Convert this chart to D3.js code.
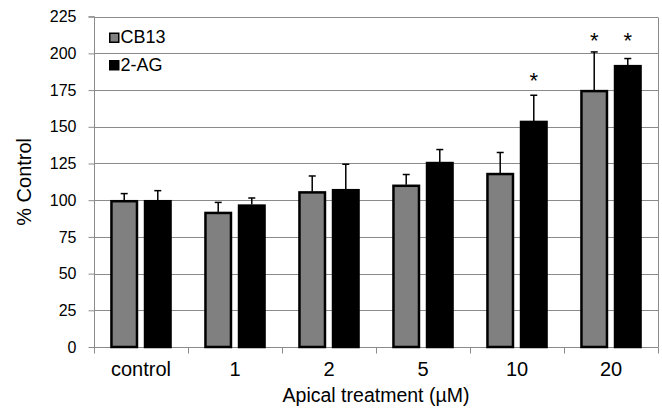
<!DOCTYPE html>
<html>
<head>
<meta charset="utf-8">
<script src="https://cdn.jsdelivr.net/npm/d3@7"></script>
<style>
  html, body { margin: 0; padding: 0; background: #fff; }
  svg { display: block; font-family: Arial, "Liberation Sans", sans-serif; }
</style>
</head>
<body>
<svg id="chart" width="662" height="409"></svg>
<script>
// ---- data ----
const categories = ["control", "1", "2", "5", "10", "20"];
const seriesNames = ["CB13", "2-AG"];
const cb13Values = [100, 92, 106, 110.5, 118.5, 175];
const cb13Errors = [4.5, 6.5, 10.5, 7, 14, 26];
const agValues = [100, 97, 107.5, 126, 154, 192];
const agErrors = [6.5, 4.5, 17, 8.5, 17.5, 4.5];
const yTicks = [0, 25, 50, 75, 100, 125, 150, 175, 200, 225];
// significance markers: [category, series, y value of star]
const stars = [["10", "2-AG", 186], ["20", "CB13", 213], ["20", "2-AG", 213]];
const yLabel = "% Control";
const xLabel = "Apical treatment (µM)";

const colors = {"CB13": "#808080", "2-AG": "#000000"};

const svg = d3.select("#chart");
const margin = {left: 94, right: 4, top: 16.7, bottom: 62};
const W = 662, H = 409;
const x0 = margin.left, x1 = W - margin.right;
const yTop = margin.top, yBot = H - margin.bottom;

const x = d3.scaleBand().domain(categories).range([x0, x1]).padding(0);
const xs = d3.scaleBand().domain(seriesNames).range([0, x.bandwidth()])
  .paddingInner(0.18).paddingOuter(0.49);
const y = d3.scaleLinear().domain([0, 225]).range([yBot, yTop]);

const gridColor = "#8a8a8a";

// gridlines
svg.append("g").selectAll("line").data(yTicks.filter(d => d > 0)).join("line")
  .attr("x1", x0).attr("x2", x1)
  .attr("y1", d => Math.round(y(d)) + 0.5).attr("y2", d => Math.round(y(d)) + 0.5)
  .attr("stroke", gridColor).attr("stroke-width", 1);

// right border
svg.append("line").attr("x1", x1 + 0.5).attr("x2", x1 + 0.5)
  .attr("y1", Math.round(y(225)) + 0.5).attr("y2", Math.round(y(0)) + 0.5)
  .attr("stroke", gridColor);

// y axis
const yAxis = d3.axisLeft(y).tickValues(yTicks).tickSize(6).tickPadding(12).tickFormat(d3.format("d"));
const gy = svg.append("g").attr("transform", `translate(${x0 + 0.5},0)`).call(yAxis);
gy.select(".domain").attr("stroke", gridColor).attr("d", `M-6,${y(225)}H0V${y(0)}`);
gy.selectAll(".tick line").attr("stroke", gridColor);
gy.selectAll(".tick text").attr("font-size", 16).attr("fill", "#000")
  .attr("font-family", "Arial, 'Liberation Sans', sans-serif");

// x axis
const xAxis = d3.axisBottom(x).tickSize(0).tickPadding(14);
const gx = svg.append("g").attr("transform", `translate(0,${Math.round(yBot) + 0.5})`).call(xAxis);
gx.select(".domain").attr("stroke", gridColor).attr("d", `M${x0},0H${x1}`);
gx.selectAll(".tick text").attr("font-size", 20).attr("fill", "#000")
  .attr("font-family", "Arial, 'Liberation Sans', sans-serif");
// category boundary ticks
gx.append("g").selectAll("line").data(d3.range(categories.length + 1)).join("line")
  .attr("x1", i => Math.round(x0 + i * x.step()) + 0.5)
  .attr("x2", i => Math.round(x0 + i * x.step()) + 0.5)
  .attr("y1", 0).attr("y2", 6).attr("stroke", gridColor);

// bars
const rows = [];
categories.forEach((c, i) => {
  rows.push({cat: c, s: "CB13", v: cb13Values[i], e: cb13Errors[i]});
  rows.push({cat: c, s: "2-AG", v: agValues[i], e: agErrors[i]});
});
const gBars = svg.append("g");
gBars.selectAll("rect").data(rows).join("rect")
  .attr("x", d => x(d.cat) + xs(d.s) + 1)
  .attr("width", xs.bandwidth() - 2)
  .attr("y", d => y(d.v) + 1)
  .attr("height", d => y(0) - y(d.v) - 1)
  .attr("fill", d => colors[d.s])
  .attr("stroke", "#000").attr("stroke-width", 2.5);

// error bars
const gErr = svg.append("g").attr("stroke", "#000").attr("stroke-width", 1.5);
rows.forEach(d => {
  const cx = x(d.cat) + xs(d.s) + xs.bandwidth() / 2;
  gErr.append("line").attr("x1", cx).attr("x2", cx).attr("y1", y(d.v)).attr("y2", y(d.v + d.e));
  gErr.append("line").attr("x1", cx - 3.5).attr("x2", cx + 3.5).attr("y1", y(d.v + d.e)).attr("y2", y(d.v + d.e));
});

// stars
svg.append("g").selectAll("text").data(stars).join("text")
  .attr("x", d => x(d[0]) + xs(d[1]) + xs.bandwidth() / 2)
  .attr("y", d => y(d[2]))
  .attr("dy", "0.62em")
  .attr("text-anchor", "middle")
  .attr("font-size", 22)
  .text("*");

// legend
const leg = svg.append("g").attr("transform", "translate(109,32.5)");
seriesNames.forEach((s, i) => {
  const g = leg.append("g").attr("transform", `translate(0,${i * 27.5})`);
  g.append("rect").attr("x", 0.75).attr("y", 0.75).attr("width", 9).attr("height", 9)
    .attr("fill", colors[s]).attr("stroke", "#000").attr("stroke-width", 1.5);
  g.append("text").attr("x", 11.5).attr("y", 10.5).attr("font-size", 18).text(s);
});

// axis titles
svg.append("text")
  .attr("transform", `translate(31,${(yTop + yBot) / 2}) rotate(-90)`)
  .attr("text-anchor", "middle").attr("font-size", 20).text(yLabel);
svg.append("text")
  .attr("x", (x0 + x1) / 2).attr("y", 402)
  .attr("text-anchor", "middle").attr("font-size", 19.5).text(xLabel);
</script>
</body>
</html>
